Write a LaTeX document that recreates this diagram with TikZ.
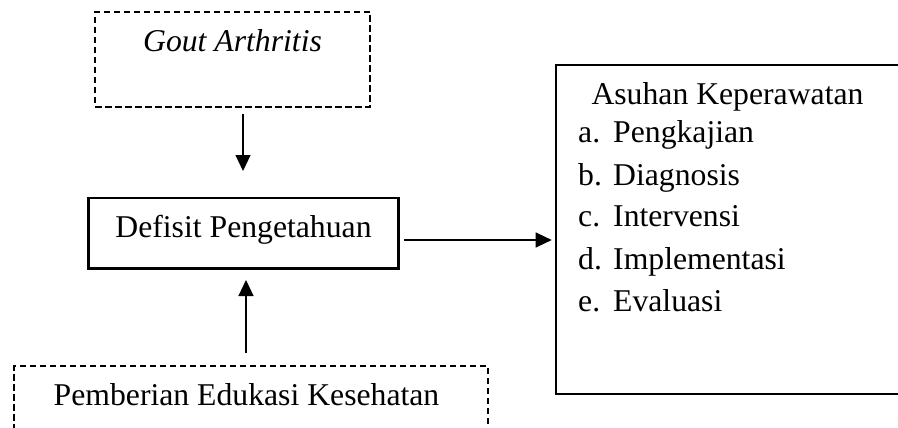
\documentclass[tikz,border=0pt]{standalone}
\usepackage{fontspec}
\setmainfont{Liberation Serif}
\usetikzlibrary{arrows.meta}
\tikzset{
  dashbox/.style={draw, line width=1.1pt, dash pattern=on 6.5pt off 3.5pt, rectangle, inner sep=0pt},
  thickbox/.style={draw, line width=2.6pt, rectangle, inner sep=0pt},
  lbl/.style={anchor=base, inner sep=0pt, font=\fontsize{31.7}{38}\selectfont},
  item/.style={anchor=base west, inner sep=0pt, font=\fontsize{31.7}{38}\selectfont},
  arr/.style={line width=1.1pt, -{Triangle[length=16pt,width=15pt]}}
}
\begin{document}
\begin{tikzpicture}[x=1pt,y=-1pt]
\fill[white] (0,0) rectangle (898,428);
\clip (0,0) rectangle (898,428);
% boxes
\node[dashbox, minimum width=275pt, minimum height=95pt] (gout) at (232.5,59.5) {};
\node[thickbox, minimum width=310pt, minimum height=70.5pt] (defisit) at (243.7,233.2) {};
\node[thickbox, minimum width=343pt, minimum height=329pt] (asuhan) at (727.5,229.5) {};
\node[dashbox, minimum width=474pt, minimum height=74pt] (edukasi) at (251,403) {};
% texts
\node[lbl] (tgout) at (232.5,52) {\itshape Gout Arthritis};
\node[lbl] (tdef) at (243.5,237.5) {Defisit Pengetahuan};
\node[lbl] (tedu) at (246.5,405) {Pemberian Edukasi Kesehatan};
\node[lbl] (tasu) at (727.5,105) {Asuhan Keperawatan};
\node[item] (ia) at (578,142.5) {\makebox[35pt][l]{a.}Pengkajian};
\node[item] (ib) at (578,185) {\makebox[35pt][l]{b.}Diagnosis};
\node[item] (ic) at (578,226.5) {\makebox[35pt][l]{c.}Intervensi};
\node[item] (id) at (578,269.5) {\makebox[35pt][l]{d.}Implementasi};
\node[item] (ie) at (578,311.5) {\makebox[35pt][l]{e.}Evaluasi};
% connectors
\coordinate (c1) at (243,114);
\coordinate (c2) at (243,171);
\draw[arr] (c1) -- (c2);
\coordinate (c3) at (246,353);
\coordinate (c4) at (246,280);
\draw[arr] (c3) -- (c4);
\coordinate (c5) at (404,240);
\draw[arr] (c5) -- ([xshift=-3pt]asuhan.west |- c5);
\end{tikzpicture}
\end{document}
